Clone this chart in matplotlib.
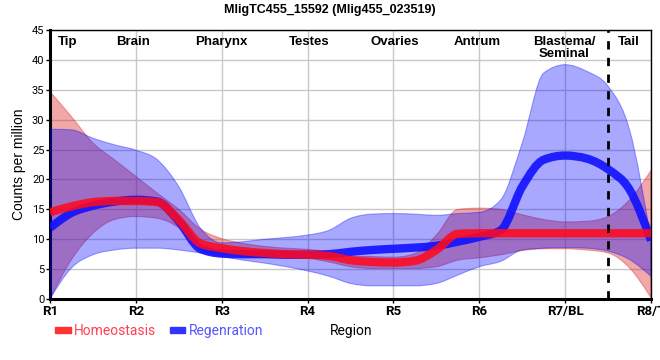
import numpy as np
import matplotlib
matplotlib.use('Agg')
import matplotlib.pyplot as plt
from matplotlib.path import Path
from matplotlib.patches import PathPatch, Rectangle

plt.rcParams['font.family'] = ['Liberation Sans', 'DejaVu Sans']

# region ticks and region names
tick_labels = ['R1', 'R2', 'R3', 'R4', 'R5', 'R6', 'R7/BL', 'R8/T']
region_names = ['Tip', 'Brain', 'Pharynx', 'Testes', 'Ovaries', 'Antrum', 'Blastema/\nSeminal', 'Tail']
region_pos = [1.21, 1.97, 3.0, 4.02, 5.01, 5.98, 6.99, 7.74]

# sample positions (quarter region steps)
x = [1, 1.25, 1.5, 1.75, 2, 2.25, 2.5, 2.75, 3, 3.25, 3.5, 3.75, 4, 4.25, 4.5,
     4.75, 5, 5.25, 5.5, 5.75, 6, 6.25, 6.5, 6.75, 7, 7.25, 7.5, 7.75, 8]

homeo_mean = [14.5, 15.5, 16.2, 16.4, 16.4, 16.2, 13.2, 9.3, 8.5, 8.0, 7.7, 7.5, 7.4, 7.2, 6.5,
              6.2, 6.1, 6.4, 8.2, 10.9, 11.0, 11.0, 11.0, 11.0, 11.0, 11.0, 11.0, 11.0, 11.0]
homeo_low = [0.0, 6.6, 11.0, 13.3, 13.8, 13.5, 11.9, 8.2, 7.4, 7.1, 7.0, 6.9, 6.8, 6.2, 5.4,
             5.1, 5.1, 5.1, 5.4, 6.5, 6.9, 7.4, 8.1, 8.4, 8.4, 8.2, 7.7, 5.2, 0.2]
homeo_high = [34.7, 30.5, 26.1, 23.3, 20.5, 17.7, 15.0, 11.7, 10.1, 9.3, 8.8, 8.5, 8.3, 7.9, 7.2,
              7.1, 7.0, 7.6, 10.7, 15.0, 15.2, 15.0, 14.1, 13.3, 12.9, 13.0, 13.8, 16.6, 21.5]

regen_mean = [11.9, 14.4, 15.6, 16.3, 16.6, 16.3, 13.0, 8.4, 7.6, 7.5, 7.5, 7.4, 7.4, 7.5, 7.9,
              8.2, 8.4, 8.6, 8.9, 9.6, 10.4, 11.5, 18.8, 23.3, 24.0, 23.5, 21.7, 18.3, 9.8]
regen_low = [0.0, 5.2, 7.4, 8.2, 8.5, 8.5, 8.2, 7.7, 7.1, 6.5, 6.0, 5.4, 4.7, 3.8, 2.6,
             2.2, 2.2, 2.2, 2.6, 4.0, 5.4, 6.3, 8.2, 8.5, 8.6, 8.5, 8.0, 6.6, 3.8]
regen_high = [28.4, 28.3, 26.9, 25.8, 24.9, 23.3, 18.8, 11.9, 9.4, 9.6, 10.0, 10.3, 10.7, 11.5, 13.5,
              14.2, 14.3, 14.2, 14.0, 14.3, 14.5, 16.6, 26.1, 37.8, 39.2, 38.1, 35.6, 28.3, 9.9]


def smooth_segments(xs, ys):
    # monotone cubic bezier segments through the points (like a d3 monotoneX curve)
    xs = np.asarray(xs, float)
    ys = np.asarray(ys, float)
    h = np.diff(xs)
    s = np.diff(ys) / h
    m = np.zeros(len(xs))
    for i in range(1, len(xs) - 1):
        p = (s[i-1] * h[i] + s[i] * h[i-1]) / (h[i-1] + h[i])
        m[i] = (np.sign(s[i-1]) + np.sign(s[i])) * min(abs(s[i-1]), abs(s[i]), 0.5 * abs(p))
    m[0] = (3 * s[0] - m[1]) / 2 if len(xs) > 2 else s[0]
    m[-1] = (3 * s[-1] - m[-2]) / 2 if len(xs) > 2 else s[-1]
    segs = []
    for i in range(len(xs) - 1):
        d = h[i] / 3
        segs.append([(xs[i], ys[i]), (xs[i] + d, ys[i] + m[i] * d),
                     (xs[i+1] - d, ys[i+1] - m[i+1] * d), (xs[i+1], ys[i+1])])
    return segs


def line_path(xs, ys):
    segs = smooth_segments(xs, ys)
    verts = [segs[0][0]]
    codes = [Path.MOVETO]
    for sg in segs:
        verts += sg[1:]
        codes += [Path.CURVE4] * 3
    return Path(verts, codes)


def band_path(xs, lo, hi):
    up = smooth_segments(xs, hi)
    dn = smooth_segments(xs, lo)
    verts = [up[0][0]]
    codes = [Path.MOVETO]
    for sg in up:
        verts += sg[1:]
        codes += [Path.CURVE4] * 3
    verts.append(dn[-1][3])
    codes.append(Path.LINETO)
    for sg in dn[::-1]:
        verts += [sg[2], sg[1], sg[0]]
        codes += [Path.CURVE4] * 3
    verts.append(up[0][0])
    codes.append(Path.CLOSEPOLY)
    return Path(verts, codes)


fig = plt.figure(figsize=(6.6, 3.6), dpi=100)
ax = fig.add_axes([0.0758, 0.1694, 0.9106, 0.7473])

# bands
ax.add_patch(PathPatch(band_path(x, homeo_low, homeo_high), facecolor='#dc1c1c', alpha=0.38,
                       edgecolor='#dc1c1c', lw=0.8, zorder=2))
ax.add_patch(PathPatch(band_path(x, regen_low, regen_high), facecolor='#0000ff', alpha=0.34,
                       edgecolor='#0000ff', lw=0.8, zorder=3))
# means
ax.add_patch(PathPatch(line_path(x, regen_mean), facecolor='none', edgecolor='#1010ff',
                       lw=6, alpha=0.9, capstyle='butt', zorder=4))
ax.add_patch(PathPatch(line_path(x, homeo_mean), facecolor='none', edgecolor='#ff0a1e',
                       lw=6, alpha=0.88, capstyle='butt', zorder=5))

ax.axvline(7.5, color='black', lw=2, ls=(0, (3, 3)), zorder=6)

for name, p in zip(region_names, region_pos):
    ax.text(p, 44.0, name, ha='center', va='top', fontsize=9.5, fontweight='bold',
            linespacing=1.0, zorder=7)

ax.set_xlim(1, 8)
ax.set_ylim(0, 45)
ax.set_xticks(range(1, 9))
ax.set_xticklabels(tick_labels, fontsize=9.5, fontweight='bold', family=['Roboto', 'DejaVu Sans'])
ax.set_yticks(range(0, 46, 5))
ax.set_yticklabels([str(v) for v in range(0, 46, 5)], fontsize=8, family=['Roboto', 'DejaVu Sans'])
ax.tick_params(axis='both', length=3, width=1, pad=1)
ax.grid(True, color='#c8c8c8', lw=1, zorder=0)
ax.set_axisbelow(True)
for s in ['left', 'bottom']:
    ax.spines[s].set_linewidth(2.2)
for s in ['top', 'right']:
    ax.spines[s].set_linewidth(1)
ax.set_ylabel('Counts per million', fontsize=10, labelpad=4)

fig.text(0.5, 0.972, 'MligTC455_15592 (Mlig455_023519)', ha='center', va='center',
         fontsize=9, fontweight='bold')
fig.text(0.532, 0.08, 'Region', ha='center', va='center', fontsize=10,
         family=['Roboto', 'DejaVu Sans'])

# legend below the axes
fig.patches.append(Rectangle((0.0833, 0.075), 0.0242, 0.0167, color='#ff3333',
                             transform=fig.transFigure, figure=fig))
fig.text(0.112, 0.08, 'Homeostasis', ha='left', va='center', fontsize=10, color='#ff4050',
         family=['Roboto', 'DejaVu Sans'])
fig.patches.append(Rectangle((0.2576, 0.075), 0.0227, 0.0167, color='#3333ff',
                             transform=fig.transFigure, figure=fig))
fig.text(0.2864, 0.08, 'Regenration', ha='left', va='center', fontsize=10, color='#5555ff',
         family=['Roboto', 'DejaVu Sans'])

fig.savefig('out.png', dpi=100)
